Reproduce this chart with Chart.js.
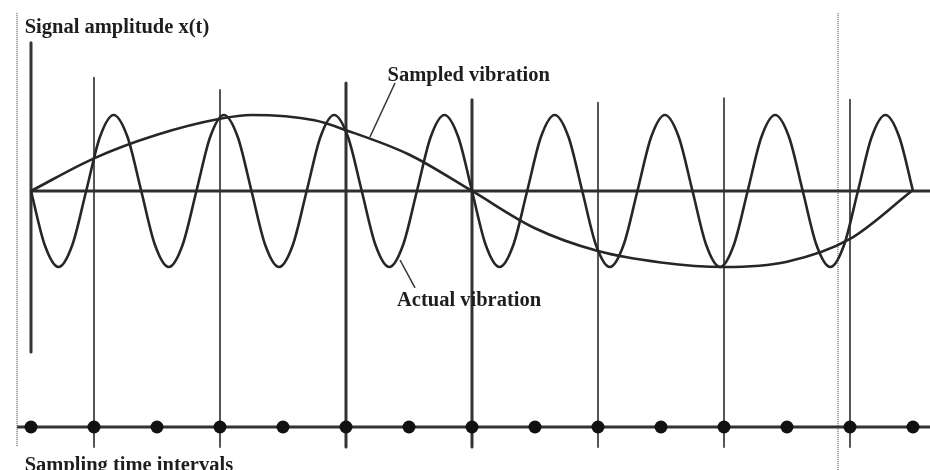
<!DOCTYPE html>
<html>
<head>
<meta charset="utf-8">
<script src="https://cdn.jsdelivr.net/npm/chart.js@4.4.1/dist/chart.umd.min.js"></script>
<style>
  html,body{margin:0;padding:0;background:#fff;}
  #wrap{width:930px;height:470px;}
</style>
</head>
<body>
<div id="wrap"><canvas id="c" width="930" height="470"></canvas></div>
<script>
// ---- time axis: 1 unit = one sampling interval ----
const actualTimes = [0.000,0.109,0.219,0.328,0.438,0.547,0.656,0.766,0.875,
  0.984,1.094,1.203,1.313,1.422,1.531,1.641,1.750,
  1.859,1.969,2.078,2.188,2.297,2.406,2.516,2.625,
  2.734,2.844,2.953,3.063,3.172,3.281,3.391,3.500,
  3.609,3.719,3.828,3.938,4.047,4.156,4.266,4.375,
  4.484,4.594,4.703,4.813,4.922,5.031,5.141,5.250,
  5.359,5.469,5.578,5.688,5.797,5.906,6.016,6.125,
  6.234,6.344,6.453,6.563,6.672,6.781,6.891,7.000];
const actualAmps = [0,-0.71,-1,-0.71,0,0.71,1,0.71,
  0,-0.71,-1,-0.71,0,0.71,1,0.71,
  0,-0.71,-1,-0.71,0,0.71,1,0.71,
  0,-0.71,-1,-0.71,0,0.71,1,0.71,
  0,-0.71,-1,-0.71,0,0.71,1,0.71,
  0,-0.71,-1,-0.71,0,0.71,1,0.71,
  0,-0.71,-1,-0.71,0,0.71,1,0.71,
  0,-0.71,-1,-0.71,0,0.71,1,0.71,0];
const sampledTimes = [0, 0.5, 1.0, 1.5, 1.75, 2.25, 2.5, 3.0, 3.5, 4.0, 4.5, 5.0, 5.5, 6.0, 6.5, 6.99];
const sampledAmps  = [0, 0.43, 0.74, 0.95, 1.00, 0.93, 0.80, 0.48, 0, -0.49, -0.79, -0.94, -1.00, -0.93, -0.63, 0];
const stemTimes   = [0, 0.5, 1.5, 2.5, 3.5, 4.5, 5.5, 6.5];
const stemTops    = [1.95, 1.49, 1.33, 1.42, 1.20, 1.16, 1.22, 1.20];
const stemBottoms = [-2.12, -3.37, -3.37, -3.37, -3.37, -3.37, -3.37, -3.37];
const dotTimes = [0,0.5,1,1.5,2,2.5,3,3.5,4,4.5,5,5.5,6,6.5,7];
const timeLineLevel = -3.105;
const frameTimes = [-0.111, 6.405];
const frameTops = [2.34, 2.34];
const frameBottoms = [-3.37, -3.70];
const labelTexts = ["Signal amplitude x(t)", "Sampled vibration", "Actual vibration", "Sampling time intervals"];
const labelTimes = [-0.05, 2.83, 2.905, -0.05];
const labelAmps  = [2.08, 1.45, -1.516, -3.69];
const leaderSampled = [[2.889, 1.421], [2.690, 0.711]];
const leaderActual  = [[2.929, -0.908], [3.048, -1.276]];

const INK = '#262626';
const heavyStems = [0, 3, 4];

const datasets = [];
frameTimes.forEach((t, i) => datasets.push({
  data: [{x:t, y:frameTops[i]}, {x:t, y:frameBottoms[i]}],
  borderColor: '#9a9a9a', borderWidth: 2, borderDash: [1,1], pointRadius: 0, order: 10
}));
stemTimes.forEach((t, i) => datasets.push({
  data: [{x:t, y:stemTops[i]}, {x:t, y:stemBottoms[i]}],
  borderColor: heavyStems.includes(i) ? '#333' : '#555',
  borderWidth: heavyStems.includes(i) ? 3 : 2, pointRadius: 0, order: 9
}));
datasets.push({ data: [{x:0, y:0}, {x:7.2, y:0}], borderColor: '#2e2e2e', borderWidth: 3, pointRadius: 0, order: 8 });
datasets.push({ data: [{x:-0.11, y:timeLineLevel}, {x:7.2, y:timeLineLevel}], borderColor: '#333', borderWidth: 3, pointRadius: 0, order: 8 });
datasets.push({ data: dotTimes.map(t => ({x:t, y:timeLineLevel})), showLine: false,
  pointRadius: 6.5, pointBackgroundColor: '#111', pointBorderColor: '#111', pointBorderWidth: 0, order: 1 });
datasets.push({ data: actualTimes.map((t,i) => ({x:t, y:actualAmps[i]})), borderColor: INK, borderWidth: 2.6,
  pointRadius: 0, cubicInterpolationMode: 'monotone', order: 3 });
datasets.push({ data: sampledTimes.map((t,i) => ({x:t, y:sampledAmps[i]})), borderColor: INK, borderWidth: 2.6,
  pointRadius: 0, cubicInterpolationMode: 'monotone', order: 2 });
[leaderSampled, leaderActual].forEach(l => datasets.push({
  data: l.map(p => ({x:p[0], y:p[1]})), borderColor: '#333', borderWidth: 1.5, pointRadius: 0, order: 2 }));

const labelPlugin = {
  id: 'labels',
  afterDatasetsDraw(chart) {
    const {ctx, scales:{x, y}} = chart;
    ctx.save();
    ctx.fillStyle = '#1e1e1e';
    ctx.font = 'bold 20.5px "Liberation Serif", "Times New Roman", serif';
    ctx.textBaseline = 'alphabetic';
    ctx.textAlign = 'left';
    labelTexts.forEach((s, i) => ctx.fillText(s, x.getPixelForValue(labelTimes[i]), y.getPixelForValue(labelAmps[i])));
    ctx.restore();
  }
};

new Chart(document.getElementById('c'), {
  type: 'line',
  data: { datasets },
  options: {
    responsive: false, animation: false, events: [],
    layout: { padding: 0, autoPadding: false },
    elements: { line: { borderJoinStyle: 'round', fill: false }, point: { hitRadius: 0 } },
    plugins: { legend: { display: false }, tooltip: { enabled: false } },
    scales: {
      x: { type: 'linear', display: false, min: -0.246, max: 7.135 },
      y: { type: 'linear', display: false, min: -3.671, max: 2.513 }
    }
  },
  plugins: [labelPlugin]
});
</script>
</body>
</html>
